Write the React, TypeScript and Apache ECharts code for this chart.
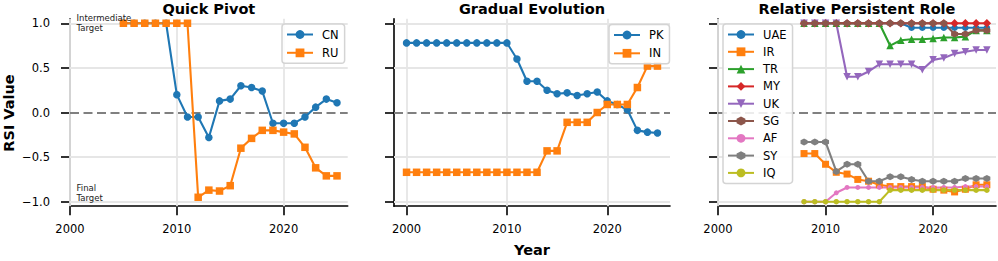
import React, { useEffect, useRef } from "react";
import * as echarts from "echarts";

// ---------- DATA ----------
const YEARS_QUICK = [2005, 2006, 2007, 2008, 2009, 2010, 2011, 2012, 2013, 2014, 2015, 2016, 2017, 2018, 2019, 2020, 2021, 2022, 2023, 2024, 2025];
const CN = [1.0, 1.0, 1.0, 1.0, 1.0, 0.2, -0.05, -0.05, -0.28, 0.13, 0.15, 0.3, 0.28, 0.24, -0.12, -0.12, -0.12, -0.05, 0.06, 0.15, 0.11];
const RU = [1.0, 1.0, 1.0, 1.0, 1.0, 1.0, 1.0, -0.95, -0.87, -0.88, -0.82, -0.4, -0.29, -0.2, -0.2, -0.22, -0.24, -0.39, -0.62, -0.71, -0.71];

const YEARS_GRADUAL = [2000, 2001, 2002, 2003, 2004, 2005, 2006, 2007, 2008, 2009, 2010, 2011, 2012, 2013, 2014, 2015, 2016, 2017, 2018, 2019, 2020, 2021, 2022, 2023, 2024, 2025];
const PK = [0.78, 0.78, 0.78, 0.78, 0.78, 0.78, 0.78, 0.78, 0.78, 0.78, 0.78, 0.6, 0.35, 0.35, 0.25, 0.21, 0.22, 0.19, 0.21, 0.23, 0.13, 0.09, 0.03, -0.2, -0.22, -0.23];
const IN = [-0.67, -0.67, -0.67, -0.67, -0.67, -0.67, -0.67, -0.67, -0.67, -0.67, -0.67, -0.67, -0.67, -0.67, -0.43, -0.43, -0.11, -0.11, -0.11, 0.0, 0.09, 0.09, 0.09, 0.28, 0.52, 0.52];

const YEARS_ROLE = [2008, 2009, 2010, 2011, 2012, 2013, 2014, 2015, 2016, 2017, 2018, 2019, 2020, 2021, 2022, 2023, 2024, 2025];
const UAE = [1, 1, 1, 1, 1, 1, 1, 1, 1, 1, 0.95, 0.95, 0.95, 0.95, 0.95, 0.95, 0.95, 0.95];
const IR = [-0.46, -0.46, -0.58, -0.67, -0.69, -0.75, -0.77, -0.81, -0.83, -0.83, -0.83, -0.83, -0.86, -0.87, -0.89, -0.86, -0.81, -0.81];
const TR = [1, 1, 1, 1, 1, 1, 1, 1, 0.75, 0.81, 0.82, 0.82, 0.83, 0.84, 0.84, 0.85, 0.92, 0.92];
const MY = [1, 1, 1, 1, 1, 1, 1, 1, 1, 1, 1, 1, 1, 1, 1, 1, 1, 1];
const UK = [1, 1, 1, 1, 0.4, 0.4, 0.46, 0.54, 0.54, 0.54, 0.54, 0.48, 0.59, 0.61, 0.66, 0.68, 0.7, 0.7];
const SG = [1, 1, 1, 1, 1, 1, 1, 1, 1, 1, 1, 1, 1, 1, 0.88, 0.88, 0.92, 0.92];
const AF = [-1, -1, -1, -0.9, -0.84, -0.84, -0.84, -0.84, -0.84, -0.84, -0.84, -0.84, -0.84, -0.84, -0.84, -0.83, -0.83, -0.83];
const SY = [-0.33, -0.33, -0.33, -0.66, -0.58, -0.58, -0.77, -0.77, -0.72, -0.72, -0.75, -0.77, -0.77, -0.77, -0.77, -0.74, -0.74, -0.74];
const IQ = [-1, -1, -1, -1, -1, -1, -1, -1, -0.87, -0.87, -0.87, -0.87, -0.87, -0.87, -0.87, -0.87, -0.87, -0.87];

const X_TICKS = [2000, 2010, 2020];
const Y_TICKS = [-1.0, -0.5, 0.0, 0.5, 1.0];
const TITLES = ["Quick Pivot", "Gradual Evolution", "Relative Persistent Role"];

// ---------- STYLE ----------
const FONT = "DejaVu Sans";
const C = {
  blue: "#1f77b4", orange: "#ff7f0e", green: "#2ca02c", red: "#d62728", purple: "#9467bd",
  brown: "#8c564b", pink: "#e377c2", gray: "#7f7f7f", olive: "#bcbd22",
};
const TRI_DOWN = "path://M0,0 L10,0 L5,10 Z";
const HEX = "path://M5,0 L9.33,2.5 L9.33,7.5 L5,10 L0.67,7.5 L0.67,2.5 Z";

const GRIDS = [
  { left: 70, width: 277.7, min: 2000, max: 2026 },
  { left: 394, width: 276, min: 1998.75, max: 2026.25 },
  { left: 718, width: 278, min: 2000, max: 2025.85 },
];
const TOP = 18.8;
const HEIGHT = 187.4;

function pairs(xs: number[], ys: number[]) {
  return xs.map((x, i) => [x, ys[i]]);
}

function lineSeries(name: string, idx: number, xs: number[], ys: number[], color: string, symbol: string, size: number) {
  return {
    type: "line",
    name,
    xAxisIndex: idx,
    yAxisIndex: idx,
    data: pairs(xs, ys),
    symbol,
    symbolSize: size,
    showAllSymbol: true,
    clip: false,
    z: 3,
    lineStyle: { color, width: 2.1 },
    itemStyle: { color },
    emphasis: { disabled: true },
  };
}

export default function App() {
  const ref = useRef<HTMLDivElement>(null);

  useEffect(() => {
    if (!ref.current) return;
    const chart = echarts.init(ref.current, null, { renderer: "svg" });

    const grid = GRIDS.map((g) => ({
      left: g.left, top: TOP, width: g.width, height: HEIGHT, containLabel: false, outerBoundsMode: "none",
    }));

    const xAxis = GRIDS.map((g, i) => ({
      type: "value",
      gridIndex: i,
      min: g.min,
      max: g.max,
      axisLine: { show: true, onZero: false, lineStyle: { color: "#000", width: 1.6 } },
      axisTick: { show: true, length: 9, customValues: X_TICKS, lineStyle: { color: "#000", width: 1.6 } },
      axisLabel: {
        show: true, customValues: X_TICKS, formatter: (v: number) => String(v),
        fontSize: 11.5, fontFamily: FONT, color: "#000", margin: 17,
      },
      splitLine: { show: false },
    }));

    const yAxis = GRIDS.map((g, i) => ({
      type: "value",
      gridIndex: i,
      min: -1.05,
      max: 1.05,
      axisLine: { show: true, onZero: false, lineStyle: { color: "#000", width: 1.6 } },
      axisTick: { show: true, length: 9, customValues: Y_TICKS, lineStyle: { color: "#000", width: 1.6 } },
      axisLabel: {
        show: i === 0, customValues: Y_TICKS,
        formatter: (v: number) => v.toFixed(1).replace("-", "\u2212"),
        fontSize: 11.5, fontFamily: FONT, color: "#000", margin: 20,
      },
      splitLine: { show: false },
    }));

    const guideSeries = GRIDS.map((g, i) => ({
      type: "line",
      name: "_guide" + i,
      xAxisIndex: i,
      yAxisIndex: i,
      data: [],
      silent: true,
      z: 1,
      markLine: {
        z: 1,
        silent: true,
        symbol: ["none", "none"],
        label: { show: false },
        emphasis: { disabled: true },
        animation: false,
        lineStyle: { color: "#e6e6e6", width: 1.8, type: "solid" },
        data: [
          ...Y_TICKS.filter((v) => v !== 0).map((v) => ({ yAxis: v })),
          ...X_TICKS.map((v) => ({ xAxis: v })),
        ],
      },
    }));

    const zeroSeries = GRIDS.map((g, i) => ({
      type: "line",
      name: "_zero" + i,
      xAxisIndex: i,
      yAxisIndex: i,
      data: [],
      silent: true,
      z: 2,
      markLine: {
        z: 2,
        silent: true,
        symbol: ["none", "none"],
        label: { show: false },
        emphasis: { disabled: true },
        animation: false,
        lineStyle: { color: "#808080", width: 2.2, type: [9, 4.5] },
        data: [{ yAxis: 0 }],
      },
    }));

    const series = [
      ...guideSeries,
      ...zeroSeries,
      lineSeries("CN", 0, YEARS_QUICK, CN, C.blue, "circle", 7.5),
      lineSeries("RU", 0, YEARS_QUICK, RU, C.orange, "rect", 7.5),
      lineSeries("PK", 1, YEARS_GRADUAL, PK, C.blue, "circle", 7.5),
      lineSeries("IN", 1, YEARS_GRADUAL, IN, C.orange, "rect", 7.5),
      lineSeries("UAE", 2, YEARS_ROLE, UAE, C.blue, "circle", 6.5),
      lineSeries("IR", 2, YEARS_ROLE, IR, C.orange, "rect", 7),
      lineSeries("TR", 2, YEARS_ROLE, TR, C.green, "triangle", 7.5),
      lineSeries("MY", 2, YEARS_ROLE, MY, C.red, "diamond", 8.5),
      lineSeries("UK", 2, YEARS_ROLE, UK, C.purple, TRI_DOWN, 7.5),
      lineSeries("SG", 2, YEARS_ROLE, SG, C.brown, HEX, 7),
      lineSeries("AF", 2, YEARS_ROLE, AF, C.pink, "circle", 5),
      lineSeries("SY", 2, YEARS_ROLE, SY, C.gray, HEX, 7),
      lineSeries("IQ", 2, YEARS_ROLE, IQ, C.olive, "circle", 5.5),
    ];

    const legendBase = {
      orient: "vertical",
      z: 6,
      itemWidth: 26,
      itemHeight: 11,
      borderColor: "#d4d4d4",
      borderWidth: 1.5,
      borderRadius: 3,
      backgroundColor: "rgba(255,255,255,0.85)",
      padding: [4, 6, 4, 4],
      selectedMode: false,
      textStyle: { fontSize: 11.5, fontFamily: FONT, color: "#000", lineHeight: 13, padding: [0, 0, 0, 4] },
    };

    const legend = [
      { ...legendBase, left: 282, top: 24, itemGap: 5.3, data: ["CN", "RU"] },
      { ...legendBase, left: 609, top: 24.5, itemGap: 5.3, data: ["PK", "IN"] },
      { ...legendBase, left: 723, top: 24, itemGap: 4.3, data: ["UAE", "IR", "TR", "MY", "UK", "SG", "AF", "SY", "IQ"] },
    ];

    const titleTexts = GRIDS.map((g, i) => ({
      type: "text",
      x: g.left + g.width / 2,
      y: 9,
      silent: true,
      style: {
        text: TITLES[i], fill: "#000", fontSize: 14.5, fontWeight: "bold", fontFamily: FONT,
        align: "center", verticalAlign: "middle",
      },
    }));

    const graphic = [
      ...titleTexts,
      {
        type: "text", x: 8.5, y: 113, rotation: Math.PI / 2, silent: true,
        style: { text: "RSI Value", fill: "#000", fontSize: 14.5, fontWeight: "bold", fontFamily: FONT, align: "center", verticalAlign: "middle" },
      },
      {
        type: "text", x: 532, y: 250, silent: true,
        style: { text: "Year", fill: "#000", fontSize: 14.5, fontWeight: "bold", fontFamily: FONT, align: "center", verticalAlign: "middle" },
      },
      {
        type: "text", x: 76.5, y: 13.5, silent: true, z: 10,
        style: { text: "Intermediate\nTarget", fill: "#222", fontSize: 8.5, lineHeight: 9.5, fontFamily: FONT, align: "left", verticalAlign: "top" },
      },
      {
        type: "text", x: 76.5, y: 183.5, silent: true, z: 10,
        style: { text: "Final\nTarget", fill: "#222", fontSize: 8.5, lineHeight: 9.5, fontFamily: FONT, align: "left", verticalAlign: "top" },
      },
    ];

    chart.setOption({
      animation: false,
      backgroundColor: "#fff",
      textStyle: { fontFamily: FONT },
      grid,
      xAxis,
      yAxis,
      legend,
      series,
      graphic,
    });

    return () => chart.dispose();
  }, []);

  return (
    <div
      ref={ref}
      style={{ position: "fixed", left: 0, top: 0, width: 998, height: 261, background: "#fff" }}
    />
  );
}
